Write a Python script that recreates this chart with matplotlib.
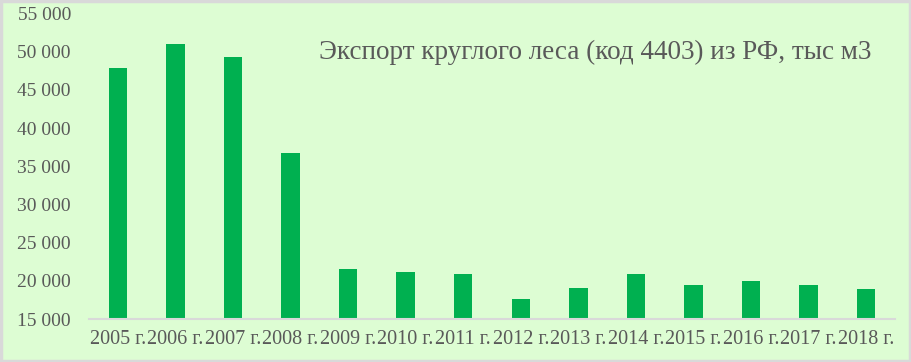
import matplotlib.pyplot as plt
import matplotlib.patches as patches
from matplotlib.ticker import FuncFormatter

# ----------------------------------------------------------------------------------------------------------------------
years = ["2005 г.", "2006 г.", "2007 г.", "2008 г.", "2009 г.", "2010 г.", "2011 г.",
         "2012 г.", "2013 г.", "2014 г.", "2015 г.", "2016 г.", "2017 г.", "2018 г."]
export_volume = [47850, 51000, 49300, 36700, 21500, 21150, 20900,
                 17600, 19050, 20900, 19450, 19950, 19450, 18950]
title_text = "Экспорт круглого леса (код 4403) из РФ, тыс м3"
# ----------------------------------------------------------------------------------------------------------------------

plt.rcParams['font.family'] = ['Liberation Serif', 'DejaVu Serif']

bg_color = '#DDFDD3'
text_color = '#595959'

fig = plt.figure(figsize=(9.12, 3.62), dpi=100, facecolor=bg_color)
ax = fig.add_axes([89 / 912, 43 / 362, 806 / 912, 305.5 / 362])
ax.set_facecolor(bg_color)

x_pos = range(len(years))
ax.bar(x_pos, export_volume, width=0.32, color='#00B050', zorder=2)

ax.set_xlim(-0.5, len(years) - 0.5)
ax.set_ylim(15000, 55000)
ax.set_yticks(range(15000, 55001, 5000))
ax.yaxis.set_major_formatter(FuncFormatter(lambda v, p: "{:,}".format(int(v)).replace(",", " ")))
ax.set_xticks(list(x_pos))
ax.set_xticklabels(years)

for side in ['top', 'right', 'left']:
    ax.spines[side].set_visible(False)
ax.spines['bottom'].set_color('#D9D9D9')
ax.spines['bottom'].set_linewidth(1.5)

ax.tick_params(axis='both', length=0, colors=text_color)
ax.tick_params(axis='y', pad=13, labelsize=14)
ax.tick_params(axis='x', pad=8, labelsize=14.5)

fig.text(319 / 912, 1 - 52 / 362, title_text, fontsize=19.5, color=text_color, va='center', ha='left')

# Chart border
fig.patches.append(patches.Rectangle((0.001, 0.002), 0.997, 0.995, transform=fig.transFigure,
                                     fill=False, edgecolor='#D9D9D9', linewidth=2.5))

fig.savefig('out.png', dpi=100, facecolor=bg_color)
